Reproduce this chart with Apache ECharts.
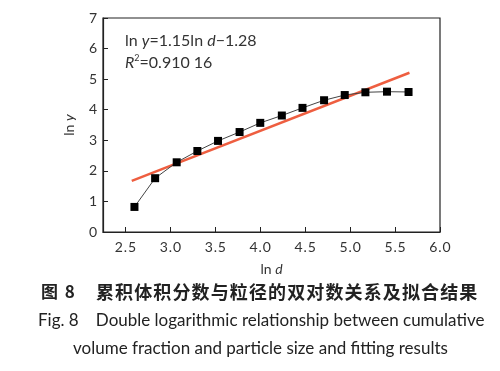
<!DOCTYPE html>
<html>
<head>
<meta charset="utf-8">
<script src="https://cdn.jsdelivr.net/npm/echarts@6/dist/echarts.min.js"></script>
<style>html,body{margin:0;padding:0;background:#fff}#c{width:500px;height:371px}</style>
</head>
<body>
<div id="c"></div>
<script>
var lnD = [2.60, 2.83, 3.07, 3.30, 3.53, 3.77, 4.00, 4.24, 4.47, 4.71, 4.94, 5.17, 5.41, 5.65];
var lnY = [0.82, 1.76, 2.28, 2.65, 2.98, 3.27, 3.57, 3.81, 4.06, 4.31, 4.48, 4.57, 4.59, 4.58];
var fitX = [2.57, 5.66];
var fitY = [1.67, 5.21];
var xTicks = [2.5, 3.0, 3.5, 4.0, 4.5, 5.0, 5.5, 6.0];
var yTicks = [0, 1, 2, 3, 4, 5, 6, 7];

var font = 'Lato';
var italicRich = {
  n: {fontFamily: font, fontSize: 14, color: '#333'},
  i: {fontFamily: font, fontSize: 14, fontStyle: 'italic', color: '#333'}
};
var chart = echarts.init(document.getElementById('c'), null, {renderer: 'canvas'});
chart.setOption({
  animation: false,
  backgroundColor: '#fff',
  grid: {left: 103, right: 60, top: 18, bottom: 139, show: true, borderColor: '#222', borderWidth: 1.2},
  xAxis: {
    type: 'value', min: 2.25, max: 6.0,
    name: '{n|ln }{i|d}', nameLocation: 'middle', nameGap: 30,
    nameTextStyle: {rich: italicRich},
    axisLine: {show: true, onZero: false, lineStyle: {color: '#222', width: 1.2}},
    axisTick: {show: true, inside: true, length: 5, customValues: xTicks, lineStyle: {color: '#222'}},
    axisLabel: {customValues: xTicks, fontFamily: font, fontSize: 14, color: '#333', margin: 8,
      formatter: function (v) { return v.toFixed(1).split('').join('\u200a'); }},
    splitLine: {show: false}
  },
  yAxis: {
    type: 'value', min: 0, max: 7, interval: 1,
    name: '{n|ln }{i|y}', nameLocation: 'middle', nameGap: 27, nameRotate: 90,
    nameTextStyle: {rich: italicRich},
    axisLine: {show: true, lineStyle: {color: '#222', width: 1.2}},
    axisTick: {show: true, inside: true, length: 5, lineStyle: {color: '#222'}},
    axisLabel: {fontFamily: font, fontSize: 14, color: '#333', margin: 6},
    splitLine: {show: false}
  },
  series: [
    {
      type: 'line',
      data: fitX.map(function (x, i) { return [x, fitY[i]]; }),
      symbol: 'none',
      lineStyle: {color: '#ee5e40', width: 2.5},
      z: 2
    },
    {
      type: 'line',
      data: lnD.map(function (x, i) { return [x, lnY[i]]; }),
      symbol: 'rect', symbolSize: 8,
      itemStyle: {color: '#000'},
      lineStyle: {color: '#444', width: 1},
      z: 3
    }
  ],
  graphic: [
    {type: 'text', left: 125, top: 33, style: {
      text: '{n|ln }{i|y}{n|=1.15ln }{i|d}{n|\u22121.28}',
      rich: {n: {fontFamily: font, fontSize: 16, fill: '#333'}, i: {fontFamily: font, fontSize: 16, fontStyle: 'italic', fill: '#333'}}
    }},
    {type: 'text', left: 125, top: 54, style: {
      text: '{i|R}{s|2}{n|=0.910 16}',
      rich: {n: {fontFamily: font, fontSize: 16, fill: '#333'}, i: {fontFamily: font, fontSize: 16, fontStyle: 'italic', fill: '#333'}, s: {fontFamily: font, fontSize: 9, fill: '#333', verticalAlign: 'top', padding: [0,0,8,0]}}
    }},
    {type: 'text', left: 41, top: 283, style: {
      text: '图\u2009\u20098',
      font: 'bold 17px "Noto Sans CJK SC"', fill: '#222'
    }},
    {type: 'text', left: 96, top: 283, style: {
      text: '累积体积分数与粒径的双对数关系及拟合结果'.split('').join('\u200a'),
      font: 'bold 18px "Noto Sans CJK SC"', fill: '#222'
    }},
    {type: 'text', left: 38, top: 312, style: {
      text: 'Fig. 8\u2003 Double logarithmic relationship between cumulative',
      font: '17px Lato', fill: '#222'
    }},
    {type: 'text', left: 73, top: 340, style: {
      text: 'volume fraction and particle size and fitting results',
      font: '17px Lato', fill: '#222'
    }}
  ]
});
</script>
</body>
</html>
